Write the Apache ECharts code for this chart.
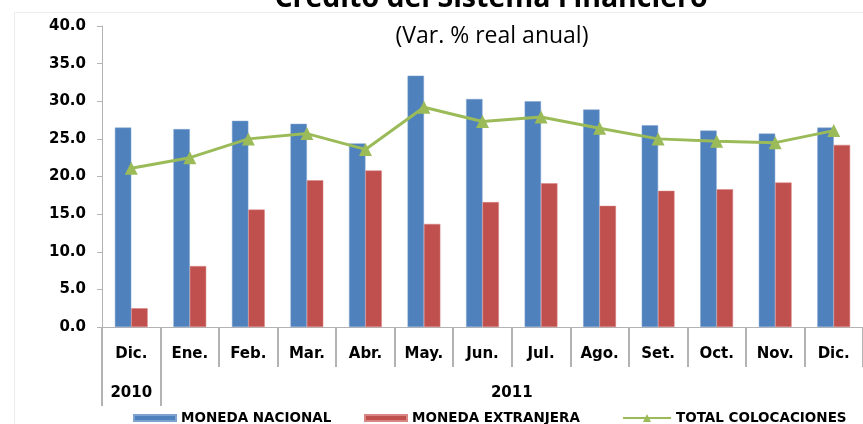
<!DOCTYPE html>
<html>
<head>
<meta charset="utf-8">
<script src="https://cdn.jsdelivr.net/npm/echarts@6/dist/echarts.min.js"></script>
<style>
  html, body { margin: 0; padding: 0; background: #fff; }
  #chart { width: 863px; height: 424px; }
</style>
</head>
<body>
<div id="chart"></div>
<script>
// meses del eje (Dic. 2010 a Dic. 2011)
const meses = ['Dic.', 'Ene.', 'Feb.', 'Mar.', 'Abr.', 'May.', 'Jun.', 'Jul.', 'Ago.', 'Set.', 'Oct.', 'Nov.', 'Dic.']
const anios = ['2010', '2011']
// var. % real anual
const monedaNacional = [26.5, 26.3, 27.4, 27.0, 24.4, 33.4, 30.3, 30.0, 28.9, 26.8, 26.1, 25.7, 26.5]
const monedaExtranjera = [2.5, 8.1, 15.6, 19.5, 20.8, 13.7, 16.6, 19.1, 16.1, 18.1, 18.3, 19.2, 24.2]
const totalColocaciones = [21.1, 22.5, 25.0, 25.7, 23.6, 29.2, 27.3, 27.9, 26.4, 25.0, 24.7, 24.5, 26.1]

const azul = '#4f81bd'
const rojo = '#c0504d'
const verde = '#9bbb59'
const gris = '#b3b3b3'
const fuenteEje = 'DejaVu Sans'

const chart = echarts.init(document.getElementById('chart'))

const legendText = { fontFamily: fuenteEje, fontWeight: 'bold', fontSize: 13.5, color: '#000' }

const option = {
    animation: false,
    title: [
        {
            text: 'Crédito del Sistema Financiero',
            left: 486, top: -21, textAlign: 'center',
            textStyle: { fontFamily: 'Open Sans', fontWeight: 'bold', fontSize: 28.5, color: '#000' }
        },
        {
            text: '(Var. % real anual)',
            left: 487, top: 20, textAlign: 'center',
            textStyle: { fontFamily: 'Open Sans', fontWeight: 'normal', fontSize: 23, color: '#000' }
        }
    ],
    graphic: [
        {
            type: 'rect', silent: true, z: -1,
            shape: { x: 14.5, y: 12.5, width: 900, height: 500 },
            style: { fill: 'none', stroke: '#ececec', lineWidth: 1 }
        }
    ],
    legend: [
        { data: ['MONEDA NACIONAL'], left: 128, top: 406, icon: 'rect', itemWidth: 42, itemHeight: 6, textStyle: legendText },
        { data: ['MONEDA EXTRANJERA'], left: 359, top: 406, icon: 'rect', itemWidth: 42, itemHeight: 6, textStyle: legendText },
        { data: ['TOTAL COLOCACIONES'], left: 617, top: 406, itemWidth: 48, itemHeight: 10, textStyle: legendText }
    ],
    grid: { left: 102, right: -9, top: 26, bottom: 97 },
    xAxis: [
        {
            type: 'category',
            data: meses,
            axisLine: { lineStyle: { color: gris } },
            axisTick: { show: true, interval: 0, length: 40, lineStyle: { color: gris, width: 2 } },
            axisLabel: { interval: 0, margin: 20, fontFamily: fuenteEje, fontWeight: 'bold', fontSize: 15, color: '#000' }
        },
        {
            // fila de años
            type: 'value', min: 0, max: 13, position: 'bottom',
            axisLine: { show: false },
            splitLine: { show: false },
            axisTick: { show: true, customValues: [0, 1], length: 79, lineStyle: { color: gris, width: 2 } },
            axisLabel: {
                customValues: [0.5, 7], margin: 59,
                formatter: v => (v < 1 ? anios[0] : anios[1]),
                fontFamily: fuenteEje, fontWeight: 'bold', fontSize: 15, color: '#000'
            }
        }
    ],
    yAxis: {
        type: 'value', min: 0, max: 40, interval: 5,
        axisLine: { show: true, lineStyle: { color: gris } },
        axisTick: { show: true, length: 5, lineStyle: { color: gris } },
        splitLine: { show: false },
        axisLabel: {
            margin: 16,
            formatter: v => v.toFixed(1),
            fontFamily: fuenteEje, fontWeight: 'bold', fontSize: 15, color: '#000'
        }
    },
    series: [
        {
            name: 'MONEDA NACIONAL', type: 'bar', data: monedaNacional,
            barGap: '0%', barCategoryGap: '44%',
            itemStyle: { color: azul, borderColor: '#7fa3d0', borderWidth: 0.5 }
        },
        {
            name: 'MONEDA EXTRANJERA', type: 'bar', data: monedaExtranjera,
            barGap: '0%', barCategoryGap: '44%',
            itemStyle: { color: rojo, borderColor: '#d88583', borderWidth: 0.5 }
        },
        {
            name: 'TOTAL COLOCACIONES', type: 'line', data: totalColocaciones,
            symbol: 'triangle', symbolSize: 13,
            lineStyle: { color: verde, width: 3 },
            itemStyle: { color: verde }
        }
    ]
}

chart.setOption(option)
</script>
</body>
</html>
